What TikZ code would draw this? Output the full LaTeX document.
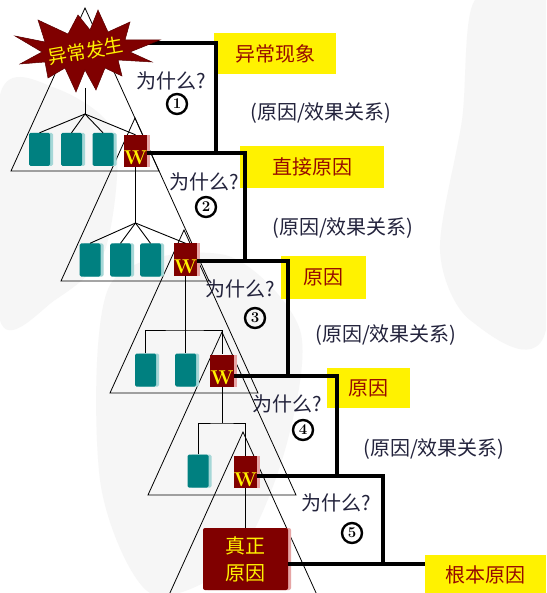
\documentclass[tikz,border=0pt]{standalone}
\usepackage{fontspec}
\newfontfamily\zhfont{Noto Sans CJK SC}
\usetikzlibrary{shadows}

\definecolor{wred}{RGB}{128,0,0}
\definecolor{tealbox}{RGB}{0,128,128}
\definecolor{tealshade}{RGB}{165,215,215}
\definecolor{redshade}{RGB}{230,165,165}
\definecolor{labred}{RGB}{150,10,0}
\definecolor{inkblue}{RGB}{35,35,60}
\definecolor{mapgray}{RGB}{246,246,246}

\begin{document}
\begin{tikzpicture}[x=1pt,y=-1pt,
  tri/.style={line width=0.8pt},
  twig/.style={line width=0.9pt},
  bracket/.style={line width=3.8pt},
  tag/.style={fill=yellow, text=labred, inner sep=0pt, font=\zhfont\fontsize{20}{24}\selectfont},
  why/.style={text=inkblue, font=\zhfont\fontsize{20}{24}\selectfont},
  rel/.style={text=inkblue, font=\zhfont\fontsize{20}{24}\selectfont},
  num/.style={circle, draw, line width=2.4pt, minimum size=20pt, inner sep=0pt,
    font=\rmfamily\bfseries\fontsize{15}{15}\selectfont},
  cell/.style={fill=tealbox, minimum width=21pt, minimum height=33pt, inner sep=0pt,
    rounded corners=1.5pt,
    drop shadow={shadow xshift=3pt, shadow yshift=0pt, fill=tealshade, opacity=1}},
  wbox/.style={fill=wred, minimum width=21pt, minimum height=32pt, inner sep=0pt,
    text=yellow, font=\rmfamily\bfseries\fontsize{20}{20}\selectfont,
    text height=29pt, text depth=1pt,
    drop shadow={shadow xshift=3pt, shadow yshift=0pt, fill=redshade, opacity=1}},
  rootbox/.style={fill=wred, minimum width=85pt, minimum height=62pt, inner sep=0pt,
    rounded corners=2pt, text=yellow, align=center,
    font=\zhfont\fontsize{20}{27}\selectfont,
    drop shadow={shadow xshift=3pt, shadow yshift=0pt, fill=redshade, opacity=1}}]

  \clip (0,0) rectangle (546,593);
  \fill[white] (0,0) rectangle (546,593);

  % faint map behind everything
  \fill[mapgray] plot[smooth cycle] coordinates {(0,95) (55,88) (115,135) (105,250) (55,300) (0,320)};
  \fill[mapgray] plot[smooth cycle] coordinates {(110,285) (225,255) (300,330) (285,450) (235,560) (150,593) (100,480)};
  \fill[mapgray] plot[smooth cycle] coordinates {(475,0) (546,0) (546,330) (470,320) (440,250) (462,120)};

  % yellow labels
  \node[tag, minimum width=122pt, minimum height=41pt] (lbl0) at (275,53.5) {异常现象};
  \node[tag, minimum width=144pt, minimum height=42pt] (lbl1) at (312,167) {直接原因};
  \node[tag, minimum width=85pt, minimum height=43pt] (lbl2) at (323.5,277.5) {原因};
  \node[tag, minimum width=83pt, minimum height=40pt] (lbl3) at (368.5,388) {原因};
  \node[tag, minimum width=121pt, minimum height=40pt] (gen) at (485.5,575) {根本原因};

  % the five nested triangles
  \foreach \x/\y in {85/8, 135/118, 184/230, 222/332, 243/432}
    \draw[tri] (\x,\y) -- ++(-74,163) -- ++(148,0) -- cycle;

  % boxes of each level
  \node[cell] (t11) at (39.5,149.5) {};
  \node[cell] (t12) at (71.5,149.5) {};
  \node[cell] (t13) at (103,149.5) {};
  \node[wbox] (w1) at (135.5,151) {W};

  \node[cell] (t21) at (90,260) {};
  \node[cell] (t22) at (120.5,260) {};
  \node[cell] (t23) at (150.5,260) {};
  \node[wbox] (w2) at (185.5,259.5) {W};

  \node[cell] (t31) at (145.5,370) {};
  \node[cell] (t32) at (185.5,370) {};
  \node[wbox] (w3) at (222,370.5) {W};

  \node[cell] (t41) at (198,471) {};
  \node[wbox] (w4) at (245.5,472) {W};

  \node[rootbox] (root) at (245.5,559) {真正\\原因};

  % tree lines
  \coordinate (b1) at (85,88);
  \coordinate (f1) at (85,114);
  \coordinate (f2) at (135.5,223);
  \coordinate (h3) at (185.5,330);
  \coordinate (h4) at (222,423);
  \draw[twig] (b1) -- (f1);
  \foreach \b in {t11,t12,t13,w1}
    \draw[twig] (f1) -- (\b.north);
  \draw[twig] (w1.south) -- (f2);
  \foreach \b in {t21,t22,t23,w2}
    \draw[twig] (f2) -- (\b.north);
  \draw[twig] (w2.south) -- (t32.north);
  \draw[twig] (t31.north) |- (h3) -| (w3.north);
  \draw[twig] (w3.south) -- (h4);
  \draw[twig] (t41.north) |- (h4) -| (w4.north);
  \draw[twig] (w4.south) -- (root.north);

  % stepped brackets
  \coordinate (tip) at (140,43);
  \coordinate (j0) at (216,153);
  \coordinate (j1) at (245,261);
  \coordinate (j2) at (288,376);
  \coordinate (j3) at (337,476);
  \coordinate (j4) at (383,564);
  \draw[bracket] (tip) -| (j0);
  \draw[bracket] (w1.east |- j0) -| (j1);
  \draw[bracket] (w2.east |- j1) -| (j2);
  \draw[bracket] (w3.east |- j2) -| (j3);
  \draw[bracket] (w4.east |- j3) -| (j4);
  \draw[bracket] (root.east |- j4) -- (gen.west |- j4);

  % burst at the top
  \filldraw[fill=wred, draw=wred!70!black, line width=0.5pt]
    (15,36) -- (45,42) -- (38,20) -- (68,34) -- (78,15) -- (90,30) -- (98,10)
    -- (108,32) -- (130,22) -- (125,40) -- (160,40) -- (130,52) -- (152,62)
    -- (118,60) -- (122,76) -- (105,68) -- (96,90) -- (85,70) -- (76,92)
    -- (65,68) -- (48,78) -- (45,62) -- (20,64) -- (42,52) -- cycle;
  \node[text=yellow, rotate=10, font=\zhfont\fontsize{19}{23}\selectfont] (burst) at (86,51) {异常发生};

  % questions
  \node[why] (why1) at (171,81) {为什么?};
  \node[why] (why2) at (204,182) {为什么?};
  \node[why] (why3) at (240,289) {为什么?};
  \node[why] (why4) at (287,404) {为什么?};
  \node[why] (why5) at (336,503) {为什么?};

  \node[num] (num1) at (177,104) {1};
  \node[num] (num2) at (206,207) {2};
  \node[num] (num3) at (255,318) {3};
  \node[num] (num4) at (303,430) {4};
  \node[num] (num5) at (352,533) {5};

  \node[rel] (rel1) at (321,113) {(原因/效果关系)};
  \node[rel] (rel2) at (343,228) {(原因/效果关系)};
  \node[rel] (rel3) at (386,335) {(原因/效果关系)};
  \node[rel] (rel4) at (434,449) {(原因/效果关系)};
\end{tikzpicture}
\end{document}
